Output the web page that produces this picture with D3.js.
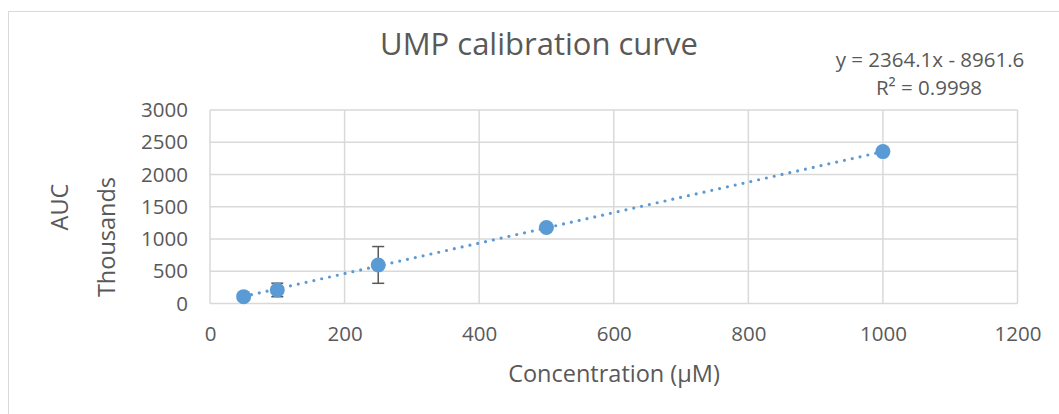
<!DOCTYPE html>
<html><head><meta charset="utf-8">
<script src="https://cdn.jsdelivr.net/npm/d3@7"></script>
<style>body{margin:0;background:#fff}text{font-family:"Open Sans","Noto Sans",sans-serif}</style>
</head><body><svg id="c" width="1059" height="414"></svg>
<script>
const concentrations = [50, 100, 250, 500, 1000];
const aucThousands = [106, 210, 598, 1178, 2355];
const errorThousands = [0, 105, 285, 0, 0];
const xTicks = [0, 200, 400, 600, 800, 1000, 1200];
const yTicks = [0, 500, 1000, 1500, 2000, 2500, 3000];
const slope = 2364.1, intercept = -8961.6;
const title = "UMP calibration curve";
const xTitle = "Concentration (µM)";
const yTitle1 = "AUC", yTitle2 = "Thousands";
const eq1 = "y = 2364.1x - 8961.6", eq2 = "R² = 0.9998";

const svg = d3.select("#c");
const col = "#5b9bd5", txt = "#595959", grid = "#d9d9d9";
svg.append("rect").attr("x",8.5).attr("y",11.5).attr("width",1060).attr("height",420)
  .attr("fill","#fff").attr("stroke","#d9d9d9");

const x = d3.scaleLinear().domain([0,1200]).range([210,1017.5]);
const y = d3.scaleLinear().domain([0,3000]).range([303.5,110]);

const g = svg.append("g");
g.selectAll(".hg").data(yTicks).join("line").attr("x1",x(0)).attr("x2",x(1200))
  .attr("y1",d=>y(d)).attr("y2",d=>y(d)).attr("stroke",grid).attr("stroke-width",1.5);
g.selectAll(".vg").data(xTicks).join("line").attr("y1",y(0)).attr("y2",y(3000))
  .attr("x1",d=>x(d)).attr("x2",d=>x(d)).attr("stroke",grid).attr("stroke-width",1.5);

const xa = svg.append("g").attr("transform",`translate(0,${y(0)})`)
  .call(d3.axisBottom(x).tickValues(xTicks).tickSize(0).tickPadding(23).tickFormat(d3.format("d")));
xa.select(".domain").remove();
xa.selectAll("text").attr("fill",txt).style("font-size","20.5px");
const ya = svg.append("g").attr("transform",`translate(${x(0)},0)`)
  .call(d3.axisLeft(y).tickValues(yTicks).tickSize(0).tickPadding(22).tickFormat(d3.format("d")));
ya.select(".domain").remove();
ya.selectAll("text").attr("fill",txt).style("font-size","20.5px");

// trendline
const f = c => (slope*c + intercept)/1000;
const x0 = d3.min(concentrations), x1 = d3.max(concentrations);
svg.append("line").attr("x1",x(x0)).attr("y1",y(f(x0))).attr("x2",x(x1)).attr("y2",y(f(x1)))
  .attr("stroke",col).attr("stroke-width",3.2).attr("stroke-linecap","round").attr("stroke-dasharray","0 8");

const data = concentrations.map((c,i)=>({c, v:aucThousands[i], e:errorThousands[i]}));
const eb = svg.append("g").attr("stroke","#595959").attr("stroke-width",1.5);
data.filter(d=>d.e>0).forEach(d=>{
  eb.append("line").attr("x1",x(d.c)).attr("x2",x(d.c)).attr("y1",y(d.v+d.e)).attr("y2",y(d.v-d.e));
  [d.v+d.e, d.v-d.e].forEach(v=>eb.append("line").attr("x1",x(d.c)-6).attr("x2",x(d.c)+6).attr("y1",y(v)).attr("y2",y(v)));
});
svg.selectAll(".pt").data(data).join("circle").attr("cx",d=>x(d.c)).attr("cy",d=>y(d.v)).attr("r",7.5).attr("fill",col);

svg.append("text").attr("x",539).attr("y",55).attr("text-anchor","middle").attr("fill",txt).style("font-size","31px").text(title);
svg.append("text").attr("x",614).attr("y",382).attr("text-anchor","middle").attr("fill",txt).style("font-size","23.5px").text(xTitle);
svg.append("text").attr("transform","translate(68,207) rotate(-90)").attr("text-anchor","middle").attr("fill",txt).style("font-size","23.5px").text(yTitle1);
svg.append("text").attr("transform","translate(115,237) rotate(-90)").attr("text-anchor","middle").attr("fill",txt).style("font-size","23.5px").text(yTitle2);
svg.append("text").attr("x",930).attr("y",67).attr("text-anchor","middle").attr("fill",txt).style("font-size","20.5px").text(eq1);
svg.append("text").attr("x",929).attr("y",95).attr("text-anchor","middle").attr("fill",txt).style("font-size","20.5px").text(eq2);
</script></body></html>
